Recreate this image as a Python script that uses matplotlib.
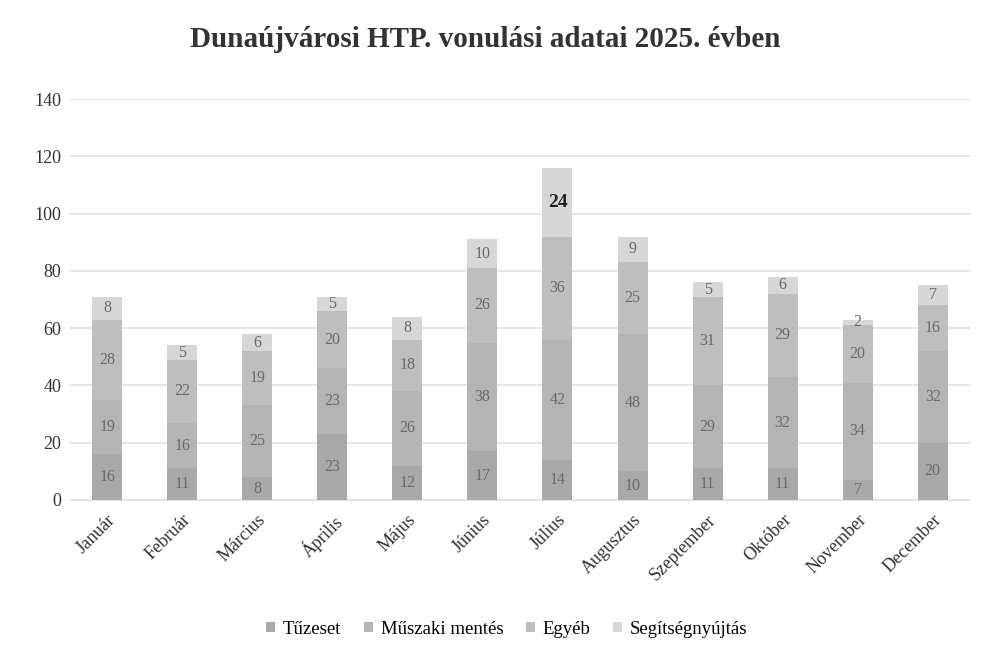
import numpy as np
import matplotlib
matplotlib.use("Agg")
import matplotlib.pyplot as plt

MONTHS = ["Január", "Február", "Március", "Április", "Május", "Június",
          "Július", "Augusztus", "Szeptember", "Október", "November", "December"]

TUZESET    = [16, 11, 8, 23, 12, 17, 14, 10, 11, 11, 7, 20]
MUSZAKI    = [19, 16, 25, 23, 26, 38, 42, 48, 29, 32, 34, 32]
EGYEB      = [28, 22, 19, 20, 18, 26, 36, 25, 31, 29, 20, 16]
SEGITSEG   = [8, 5, 6, 5, 8, 10, 24, 9, 5, 6, 2, 7]

SERIES = [
    ("Tűzeset", TUZESET, "#a9a9a9"),
    ("Műszaki mentés", MUSZAKI, "#b4b4b4"),
    ("Egyéb", EGYEB, "#bebebe"),
    ("Segítségnyújtás", SEGITSEG, "#d7d7d7"),
]

plt.rcParams["font.family"] = ["Liberation Serif", "DejaVu Serif"]

fig = plt.figure(figsize=(9.82, 6.61), dpi=100)
ax = fig.add_axes([0.071, 0.2436, 0.917, 0.6064])

x = np.arange(len(MONTHS))
bottom = np.zeros(len(MONTHS))
for name, vals, color in SERIES:
    bars = ax.bar(x, vals, 0.4, bottom=bottom, color=color, label=name,
                  zorder=3)
    for bar, v in zip(bars, vals):
        big = v >= 20 and name == "Segítségnyújtás"
        ax.text(bar.get_x() + bar.get_width() / 2,
                bar.get_y() + bar.get_height() / 2,
                str(v), ha="center", va="center", zorder=4,
                fontsize=14 if big else 11.5,
                fontweight="bold" if big else "normal",
                color="#222222" if big else "#6a6a6a")
    bottom += np.array(vals)

ax.set_xlim(-0.5, len(MONTHS) - 0.5)
ax.set_ylim(0, 140)
ax.set_yticks(range(0, 141, 20))
ax.tick_params(axis="y", labelsize=13, length=0, pad=6, colors="#333333")
ax.set_xticks(x)
ax.set_xticklabels(MONTHS, rotation=45, ha="right", rotation_mode="anchor",
                   fontsize=13, color="#333333")
ax.tick_params(axis="x", length=0, pad=8)
ax.grid(True, axis="y", color="#e2e2e2", linewidth=1.2, zorder=0)
for s in ["top", "right", "left"]:
    ax.spines[s].set_visible(False)
ax.spines["bottom"].set_color("#e2e2e2")

fig.text(0.494, 0.94, "Dunaújvárosi HTP. vonulási adatai 2025. évben",
         ha="center", va="center", fontsize=21, fontweight="bold",
         color="#333333")

fig.legend(loc="lower center", bbox_to_anchor=(0.516, 0.01), ncol=4,
           frameon=False, fontsize=13.5, handlelength=0.5, handleheight=0.5,
           handletextpad=0.4, columnspacing=1.2)

plt.savefig("out.png", dpi=100)
plt.close()
